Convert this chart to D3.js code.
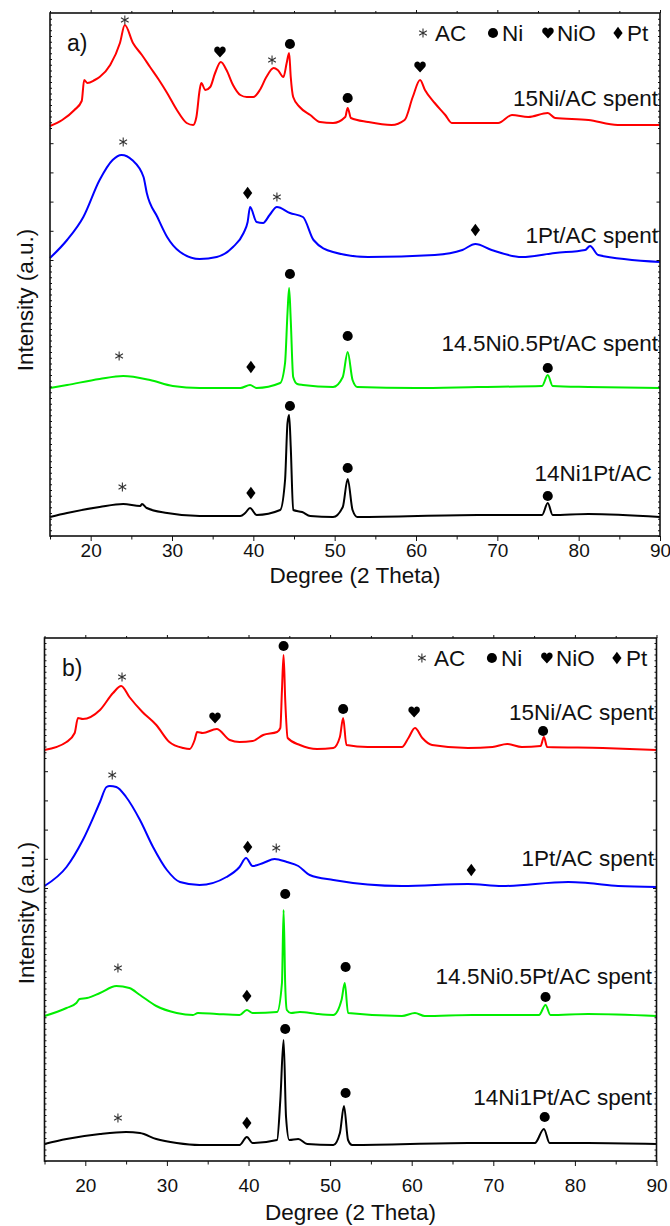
<!DOCTYPE html>
<html>
<head>
<meta charset="utf-8">
<script src="https://cdn.jsdelivr.net/npm/d3@7"></script>
<style>
  html, body { margin: 0; padding: 0; background: #fff; }
  svg { display: block; }
  text { font-family: "Liberation Sans", Arial, Helvetica, sans-serif; fill: #111; }
</style>
</head>
<body>
<svg id="chart" width="670" height="1226"></svg>
<script>
// ---------------- DATA ----------------
// 2-theta (deg) vs stacked intensity (a.u.), panel a)
const a_15Ni = [[15,410],[16.5,416],[18,426],[18.9,435],[19.2,456],[19.6,453],[20.5,456],[21.1,459],[22.4,471],[23.6,493],[24.2,511],[25.2,493],[26.3,481],[27.3,469],[28.4,456],[29.4,443],[30.6,426],[31.8,413],[32.6,411],[33.0,419],[33.4,446],[33.6,453],[34.1,446],[34.7,449],[35.3,463],[36.0,474],[36.7,466],[37.5,451],[38.4,441],[39.2,439],[40.0,439],[40.8,446],[41.6,459],[42.5,468],[43.0,466],[43.7,459],[44.1,473],[44.4,483],[44.6,459],[44.9,439],[45.7,429],[47.0,421],[48.2,414],[49.8,413],[51.3,419],[51.6,428],[52.0,418],[54.1,414],[57.0,411],[58.6,416],[59.6,439],[60.5,456],[61.1,446],[62.3,433],[63.6,421],[64.4,413],[66.4,413],[70.1,413],[71.8,421],[73.8,419],[76.2,423],[77.1,418],[81.2,416],[84.8,411],[90,411]];
const a_1Pt = [[15,278],[17.1,296],[19.1,319],[21.1,356],[22.7,376],[23.8,381],[25.1,376],[26.5,359],[26.9,343],[28.2,319],[29.4,299],[31.0,284],[33.4,277],[35.5,279],[37.5,289],[38.8,303],[39.3,314],[39.6,329],[40.4,314],[41.2,313],[42.0,321],[42.9,329],[44.5,323],[46.1,319],[47.4,296],[49.8,284],[54.1,279],[62.3,281],[65.7,286],[67.3,292],[69.3,286],[73.0,279],[77.1,283],[80.8,286],[81.4,290],[82.4,281],[90,274]];
const a_145Ni05Pt = [[15,148],[17.1,151],[21.1,157],[24.0,160],[27.3,156],[30.1,150],[33.4,148],[38.4,148],[39.6,151],[40.4,148],[43.3,153],[43.9,173],[44.2,223],[44.4,248],[44.6,216],[44.9,159],[45.4,152],[46.1,151],[49.8,149],[51.0,159],[51.6,184],[52.2,156],[52.8,149],[59.9,148],[67.6,149],[75.5,150],[76.2,161],[76.8,150],[81.2,149],[90,148]];
const a_14Ni1Pt = [[15,19],[17.1,23],[21.1,29],[24.0,32],[26.1,30],[26.3,32],[26.9,28],[29.4,23],[33.4,20],[38.4,20],[39.0,23],[39.6,28],[40.4,21],[43.3,26],[43.9,56],[44.2,113],[44.4,121],[44.6,89],[44.9,26],[46.0,24],[47.0,20],[49.8,19],[51.0,29],[51.6,57],[52.2,26],[52.8,19],[67.6,21],[75.5,21],[76.2,33],[76.8,21],[81.2,22],[90,19]];

// panel b)
const b_15Ni = [[15,411],[17.7,419],[18.7,428],[19.1,443],[19.7,442],[21.8,451],[23.4,468],[24.4,475],[25.4,464],[27.0,449],[28.7,436],[30.3,419],[32.0,413],[32.8,412],[33.4,421],[33.7,429],[34.4,428],[36.1,432],[37.7,421],[38.9,419],[40.5,420],[41.8,426],[43.5,429],[43.9,433],[44.1,471],[44.3,506],[44.5,461],[44.8,423],[46.3,416],[48.4,412],[50.4,413],[51.2,424],[51.6,443],[52.0,416],[54.6,414],[58.8,414],[59.6,423],[60.4,433],[61.3,423],[62.5,416],[66.9,413],[69.9,414],[71.7,417],[73.5,414],[75.8,415],[76.2,424],[76.6,414],[83.4,413],[90,411]];
const b_1Pt = [[15,275],[17.7,294],[19.7,321],[21.8,359],[22.6,374],[23.0,375],[23.8,374],[25.0,364],[26.7,341],[28.3,314],[30.0,291],[31.6,279],[34.0,276],[37.3,284],[38.9,294],[39.7,303],[40.5,295],[41.8,298],[43.2,302],[44.7,299],[46.1,295],[47.5,286],[50.4,281],[58.8,275],[66.9,277],[71.1,275],[79.2,279],[81.6,278],[85.3,275],[90,274]];
const b_145Ni05Pt = [[15,145],[17.7,153],[18.9,158],[19.3,162],[20.2,163],[21.8,168],[23.8,175],[25.4,173],[26.7,166],[28.7,155],[31.2,148],[33.2,146],[33.8,148],[36.1,147],[38.9,146],[39.8,151],[40.5,148],[43.5,149],[44.1,178],[44.3,251],[44.5,176],[44.7,151],[45.2,148],[46.3,149],[48.4,147],[50.4,146],[51.4,161],[51.8,178],[52.2,148],[58.8,145],[60.4,148],[61.6,145],[67.4,146],[75.6,146],[76.4,156],[77.0,146],[81.6,147],[90,145]];
const b_14Ni1Pt = [[15,17],[17.7,22],[21.8,27],[25.0,29],[26.7,28],[28.7,22],[31.2,18],[34.0,16],[38.9,16],[39.8,24],[40.5,18],[43.5,21],[43.9,61],[44.3,121],[44.6,44],[45.0,21],[46.1,22],[47.2,17],[50.4,16],[51.2,28],[51.7,55],[52.2,21],[52.7,16],[66.9,18],[75.1,18],[76.2,32],[76.9,18],[81.6,18],[90,17]];

const seriesNamesA = ["15Ni/AC spent", "1Pt/AC spent", "14.5Ni0.5Pt/AC spent", "14Ni1Pt/AC"];
const seriesNamesB = ["15Ni/AC spent", "1Pt/AC spent", "14.5Ni0.5Pt/AC spent", "14Ni1Pt/AC spent"];
const seriesColors = ["#ff0000", "#0000ff", "#00ee00", "#000000"];

// phase markers: [2theta, intensity, phase]
const markersA = [[24.2,516,"AC"],[35.9,484,"NiO"],[42.3,476,"AC"],[44.5,492,"Ni"],[51.6,438,"Ni"],[60.5,469,"NiO"],
  [24.0,394,"AC"],[39.3,343,"Pt"],[42.9,339,"AC"],[67.3,306,"Pt"],
  [44.5,262,"Ni"],[23.5,180,"AC"],[39.7,169,"Pt"],[51.6,200,"Ni"],[76.2,168,"Ni"],
  [44.5,130,"Ni"],[23.9,49,"AC"],[39.7,43,"Pt"],[51.6,68,"Ni"],[76.2,40,"Ni"]];
const markersB = [[24.5,484,"AC"],[44.3,515,"Ni"],[35.9,443,"NiO"],[51.6,452,"Ni"],[60.3,449,"NiO"],[76.1,430,"Ni"],
  [23.3,386,"AC"],[39.9,314,"Pt"],[43.4,313,"AC"],[67.3,291,"Pt"],
  [44.5,267,"Ni"],[24.0,193,"AC"],[39.8,165,"Pt"],[51.9,194,"Ni"],[76.4,164,"Ni"],
  [44.5,132,"Ni"],[24.0,43,"AC"],[39.8,38,"Pt"],[51.9,68,"Ni"],[76.3,44,"Ni"]];

const legendPhases = ["AC", "Ni", "NiO", "Pt"];
const xMajorTicks = [20, 30, 40, 50, 60, 70, 80, 90];
const xMinorTicks = [15, 25, 35, 45, 55, 65, 75, 85];
const xDomain = [15, 90];
const yDomain = [0, 523];

// ---------------- LAYOUT ----------------
const panels = [
  { tag: "a)", series: [a_15Ni, a_1Pt, a_145Ni05Pt, a_14Ni1Pt], names: seriesNamesA, markers: markersA,
    left: 50, right: 660, top: 13, bottom: 536, labelV: [438, 301, 193, 63], labelRight: [658, 658, 658, 652],
    tagPos: [67, 51], legendY: 33, tickBase: 557, titleBase: 583, yTitle: [25, 300],
    denseLow: 276, denseHigh: 408 },
  { tag: "b)", series: [b_15Ni, b_1Pt, b_145Ni05Pt, b_14Ni1Pt], names: seriesNamesB, markers: markersB,
    left: 44.5, right: 656.5, top: 638, bottom: 1161, labelV: [449, 303, 185, 64], labelRight: [654, 654, 652, 652],
    tagPos: [62, 676], legendY: 658, tickBase: 1192, titleBase: 1220, yTitle: [26, 913],
    denseLow: 273, denseHigh: 403 }
];

const svg = d3.select("#chart");

const heartPath = "M0,5.5 L-4.6,0.6 C-6.8,-1.7 -5.6,-5.6 -2.7,-5.6 C-1.3,-5.6 -0.4,-4.7 0,-3.6 C0.4,-4.7 1.3,-5.6 2.7,-5.6 C5.6,-5.6 6.8,-1.7 4.6,0.6 Z";
const diamondPath = "M0,-6.2 L4.6,0 L0,6.2 L-4.6,0 Z";
const circlePath = d3.symbol(d3.symbolCircle, 80)();
const asteriskPath = d3.symbol(d3.symbolAsterisk, 55)();

function drawSymbol(g, phase, x, y) {
  if (phase === "AC") {
    g.append("path").attr("d", asteriskPath).attr("transform", `translate(${x},${y})`)
      .attr("fill", "none").attr("stroke", "#333").attr("stroke-width", 1.1);
  } else {
    const d = phase === "Ni" ? circlePath : phase === "NiO" ? heartPath : diamondPath;
    g.append("path").attr("d", d).attr("transform", `translate(${x},${y})`).attr("fill", "#000");
  }
}

panels.forEach(p => {
  const g = svg.append("g");
  const x = d3.scaleLinear().domain(xDomain).range([p.left, p.right]);
  const y = d3.scaleLinear().domain(yDomain).range([p.bottom, p.top]);

  // curves
  const line = d3.line().x(d => x(d[0])).y(d => y(d[1])).curve(d3.curveMonotoneX);
  p.series.forEach((s, i) => {
    g.append("path").datum(s).attr("d", line).attr("fill", "none")
      .attr("stroke", seriesColors[i]).attr("stroke-width", 2).attr("stroke-linejoin", "round");
  });

  // x axes
  const axB = g.append("g").attr("transform", `translate(0,${p.bottom})`)
    .call(d3.axisBottom(x).tickValues(xMajorTicks).tickSize(5).tickPadding(3).tickFormat(d3.format("d")));
  axB.selectAll("text").attr("font-size", 19).attr("y", null).attr("dy", null)
    .attr("transform", `translate(0,${p.tickBase - p.bottom})`).attr("fill", "#111");
  g.append("g").attr("transform", `translate(0,${p.bottom})`)
    .call(d3.axisBottom(x).tickValues(xMinorTicks).tickSize(3.5).tickFormat(""));
  g.append("g").attr("transform", `translate(0,${p.top})`)
    .call(d3.axisTop(x).tickValues(xMajorTicks).tickSize(3).tickFormat(""));
  g.append("g").attr("transform", `translate(0,${p.top})`)
    .call(d3.axisTop(x).tickValues(xMinorTicks).tickSize(2).tickFormat(""));

  // y axes (inward ticks, dense/sparse segments)
  const dense = d3.range(0, p.denseLow, 5.75).concat(d3.range(p.denseHigh, yDomain[1], 5.75));
  const sparse = d3.range(p.denseLow, p.denseHigh, 29.2);
  [[p.left, d3.axisRight], [p.right, d3.axisLeft]].forEach(([xp, ax]) => {
    g.append("g").attr("transform", `translate(${xp},0)`).call(ax(y).tickValues(dense).tickSize(2).tickFormat(""));
    g.append("g").attr("transform", `translate(${xp},0)`).call(ax(y).tickValues(sparse).tickSize(3.5).tickFormat(""));
  });
  g.selectAll(".domain").remove();
  g.selectAll(".tick line").attr("stroke", "#111").attr("stroke-width", 1);

  // frame
  g.append("rect").attr("x", p.left).attr("y", p.top).attr("width", p.right - p.left).attr("height", p.bottom - p.top)
    .attr("fill", "none").attr("stroke", "#111").attr("stroke-width", 1.6);

  // axis titles
  g.append("text").attr("x", (p.left + p.right) / 2).attr("y", p.titleBase).attr("text-anchor", "middle")
    .attr("font-size", 22.5).text("Degree (2 Theta)");
  g.append("text").attr("transform", `translate(${p.yTitle[0]},${p.yTitle[1]}) rotate(-90)`)
    .attr("text-anchor", "middle").attr("dy", "0.35em").attr("font-size", 22.5).text("Intensity (a.u.)");

  // panel tag
  g.append("text").attr("x", p.tagPos[0]).attr("y", p.tagPos[1]).attr("font-size", 23).text(p.tag);

  // series labels
  p.names.forEach((n, i) => {
    g.append("text").attr("x", p.labelRight[i]).attr("y", y(p.labelV[i])).attr("dy", "0.36em")
      .attr("text-anchor", "end").attr("font-size", 22.5).text(n);
  });

  // markers
  p.markers.forEach(m => drawSymbol(g, m[2], x(m[0]), y(m[1])));

  // legend
  const legX = [423, 493, 548, 618];
  const legTextX = [435, 502, 557, 627];
  legendPhases.forEach((ph, i) => {
    drawSymbol(g, ph, legX[i] + (p.left - 50) * 0.2, p.legendY);
    g.append("text").attr("x", legTextX[i] + (p.left - 50) * 0.2).attr("y", p.legendY).attr("dy", "0.36em")
      .attr("font-size", 22.5).text(ph);
  });
});
</script>
</body>
</html>
